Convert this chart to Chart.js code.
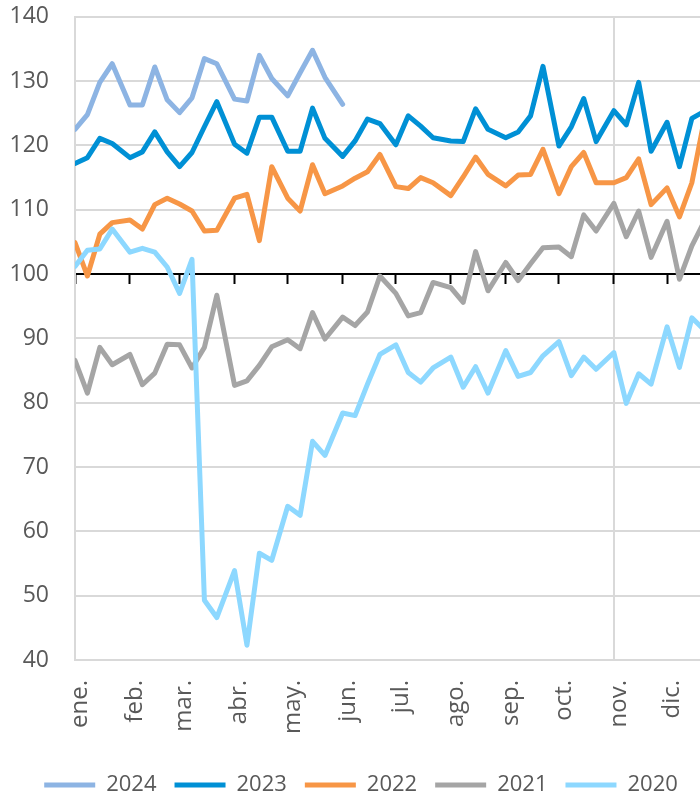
<!DOCTYPE html>
<html>
<head>
<meta charset="utf-8">
<script src="https://cdn.jsdelivr.net/npm/chart.js@4"></script>
<style>
html, body { margin: 0; padding: 0; overflow: hidden; background: #ffffff; width: 700px; height: 795px; }
#wrap { position: relative; width: 740px; height: 806px; }
canvas { display: block; }
</style>
</head>
<body>
<div id="wrap"><canvas id="c" width="740" height="806"></canvas></div>
<script>
// Month tick labels and the day of the year where each month starts
const monthLabels = ['ene.', 'feb.', 'mar.', 'abr.', 'may.', 'jun.', 'jul.', 'ago.', 'sep.', 'oct.', 'nov.', 'dic.'];
const monthStartDays = [0, 31, 59, 90, 120, 151, 181, 212, 243, 273, 304, 334];
// Four observations per month: days 1, 8, 15 and 22
const weekOffsets = [0, 7, 14, 21];
const pointDays = monthStartDays.flatMap(d => weekOffsets.map(o => d + o));

const seriesNames = ['2024', '2023', '2022', '2021', '2020'];

const v2024 = [122.5, 124.8, 129.8, 132.7, 126.3, 126.3, 132.2, 127.1, 125.1, 127.4, 133.5, 132.7,
               127.2, 126.9, 134.0, 130.4, 127.7, 131.3, 134.8, 130.6, 126.4];
const v2023 = [117.2, 118.1, 121.1, 120.3, 118.1, 119.0, 122.1, 119.0, 116.7, 118.9, 122.9, 126.8,
               120.2, 118.8, 124.4, 124.4, 119.1, 119.1, 125.8, 121.1, 118.3, 120.7, 124.1, 123.4,
               120.1, 124.6, 123.0, 121.2, 120.7, 120.6, 125.7, 122.5, 121.2, 122.1, 124.6, 132.3,
               119.9, 122.9, 127.3, 120.6, 125.4, 123.2, 129.8, 119.1, 123.6, 116.7, 124.2, 125.3];
const v2022 = [104.9, 99.7, 106.2, 108.0, 108.4, 107.0, 110.8, 111.8, 110.9, 109.8, 106.7, 106.8,
               111.8, 112.4, 105.2, 116.7, 111.8, 109.8, 117.0, 112.5, 113.7, 114.9, 115.9, 118.6,
               113.6, 113.3, 115.0, 114.2, 112.2, 115.1, 118.2, 115.5, 113.7, 115.4, 115.5, 119.4,
               112.5, 116.7, 118.9, 114.2, 114.2, 115.0, 117.9, 110.8, 113.4, 108.9, 114.2, 124.0];
const v2021 = [86.6, 81.5, 88.6, 85.9, 87.5, 82.8, 84.6, 89.1, 89.0, 85.4, 88.6, 96.7,
               82.7, 83.4, 85.8, 88.7, 89.8, 88.4, 94.0, 89.9, 93.3, 92.0, 94.1, 99.7,
               97.0, 93.5, 94.0, 98.7, 97.9, 95.6, 103.5, 97.4, 101.8, 99.0, 101.6, 104.1,
               104.2, 102.7, 109.2, 106.7, 111.0, 105.8, 109.8, 102.6, 108.2, 99.2, 104.4, 108.2];
const v2020 = [101.2, 103.7, 103.9, 107.0, 103.4, 104.0, 103.4, 101.1, 97.0, 102.3, 49.3, 46.6,
               53.9, 42.3, 56.6, 55.5, 63.9, 62.5, 74.0, 71.8, 78.4, 78.0, 82.9, 87.5,
               89.0, 84.7, 83.2, 85.4, 87.1, 82.4, 85.6, 81.5, 88.1, 84.1, 84.7, 87.3,
               89.5, 84.2, 87.1, 85.2, 87.8, 79.9, 84.5, 82.9, 91.8, 85.5, 93.2, 91.3];

const seriesValues = [v2024, v2023, v2022, v2021, v2020];
const seriesColors = ['#8DB4E3', '#0090D5', '#F79646', '#A5A5A5', '#8DD8FF'];

const yTicks = { min: 40, max: 140, step: 10 };
const xRange = { min: 0, max: 365 };

const CANVAS_H = 806;
const PLOT_BOTTOM = 660;
const FONT = "'Open Sans', 'Noto Sans', sans-serif";
const TEXT_COLOR = '#595959';
const GRID_COLOR = '#D9D9D9';

const datasets = seriesNames.map((name, i) => ({
  label: name,
  data: seriesValues[i].map((v, j) => ({ x: pointDays[j], y: v })),
  borderColor: seriesColors[i],
  backgroundColor: seriesColors[i],
  borderWidth: 5,
  borderCapStyle: 'round',
  borderJoinStyle: 'round',
  pointRadius: 0,
  pointHoverRadius: 0,
  tension: 0,
  fill: false,
  order: seriesNames.length - i
}));

const setMonthTicks = (scale) => {
  scale.ticks = monthStartDays.map(v => ({ value: v }));
};

new Chart(document.getElementById('c'), {
  type: 'line',
  data: { datasets },
  options: {
    responsive: false,
    animation: false,
    devicePixelRatio: 1,
    layout: { padding: { top: 16, right: 18, left: 0, bottom: 0 } },
    plugins: {
      tooltip: { enabled: false },
      legend: {
        position: 'bottom',
        labels: {
          usePointStyle: true,
          pointStyle: 'line',
          pointStyleWidth: 51,
          padding: 18,
          color: TEXT_COLOR,
          font: { family: FONT, size: 22 },
          sort: (a, b) => a.datasetIndex - b.datasetIndex
        }
      }
    },
    scales: {
      x: {
        type: 'linear',
        position: 'bottom',
        min: xRange.min,
        max: xRange.max,
        afterBuildTicks: setMonthTicks,
        afterFit: (s) => { s.height = CANVAS_H - PLOT_BOTTOM - s.chart.legend.height; },
        ticks: {
          autoSkip: false,
          minRotation: 90,
          maxRotation: 90,
          padding: 20,
          labelOffset: 5,
          color: TEXT_COLOR,
          font: { family: FONT, size: 24 },
          callback: (v) => monthLabels[monthStartDays.indexOf(v)]
        },
        grid: {
          drawTicks: false,
          lineWidth: 2,
          color: (ctx) => (ctx.tick && ctx.tick.value === 304) ? GRID_COLOR : 'rgba(0,0,0,0)'
        },
        border: { display: false }
      },
      x2: {
        type: 'linear',
        axis: 'x',
        position: { y: 100 },
        min: xRange.min,
        max: xRange.max,
        afterBuildTicks: setMonthTicks,
        ticks: { display: false },
        grid: {
          drawOnChartArea: false,
          drawTicks: true,
          tickLength: 9,
          tickWidth: 2,
          tickColor: '#000000'
        },
        border: { display: true, color: '#000000', width: 2 }
      },
      y: {
        type: 'linear',
        min: yTicks.min,
        max: yTicks.max,
        afterFit: (s) => { s.width = 75; },
        ticks: {
          stepSize: yTicks.step,
          padding: 3,
          color: TEXT_COLOR,
          font: { family: FONT, size: 23 }
        },
        grid: {
          color: GRID_COLOR,
          lineWidth: 2,
          drawTicks: true,
          tickLength: 23,
          tickColor: 'rgba(0,0,0,0)'
        },
        border: { display: true, color: GRID_COLOR, width: 2 }
      }
    }
  }
});
</script>
</body>
</html>
